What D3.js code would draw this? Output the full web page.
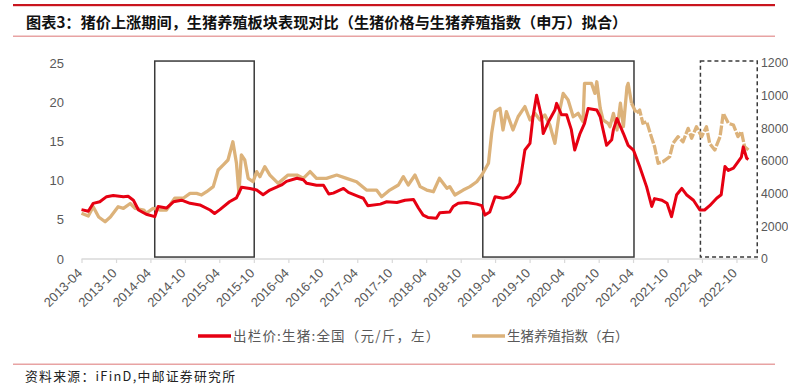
<!DOCTYPE html>
<html><head><meta charset="utf-8">
<script src="https://cdn.jsdelivr.net/npm/d3@7/dist/d3.min.js"></script>
<style>
html,body{margin:0;padding:0;background:#fff;overflow:hidden;}
svg{display:block;}
</style></head>
<body>
<svg id="c" width="788" height="384"></svg>
<script>
const titleText = "图表3：猪价上涨期间，生猪养殖板块表现对比（生猪价格与生猪养殖指数（申万）拟合）";
const sourceText = "资料来源：iFinD,中邮证券研究所";
const seriesNames = ["出栏价:生猪:全国（元/斤，左）", "生猪养殖指数（右）"];
const xTickLabels = ["2013-04","2013-10","2014-04","2014-10","2015-04","2015-10","2016-04","2016-10","2017-04","2017-10","2018-04","2018-10","2019-04","2019-10","2020-04","2020-10","2021-04","2021-10","2022-04","2022-10"];
const leftTicks = [0,5,10,15,20,25];
const rightTicks = [0,2000,4000,6000,8000,10000,12000];

const priceDates = ["2013-04-01","2013-05-07","2013-06-02","2013-07-07","2013-08-12","2013-09-16","2013-11-09","2013-12-04","2014-01-01","2014-01-28","2014-03-10","2014-04-24","2014-05-12","2014-06-25","2014-08-01","2014-09-13","2014-10-28","2014-12-19","2015-02-11","2015-03-07","2015-04-04","2015-05-25","2015-07-01","2015-07-28","2015-09-10","2015-10-16","2015-11-19","2015-12-25","2016-02-25","2016-03-22","2016-05-16","2016-06-19","2016-07-07","2016-08-28","2016-10-04","2016-11-01","2016-11-25","2017-01-18","2017-02-13","2017-04-06","2017-05-03","2017-05-27","2017-08-01","2017-09-04","2017-10-28","2017-12-10","2018-01-24","2018-02-19","2018-03-16","2018-04-10","2018-05-25","2018-06-12","2018-08-04","2018-08-22","2018-09-18","2018-11-01","2018-12-25","2019-01-21","2019-02-06","2019-03-04","2019-04-01","2019-05-13","2019-06-18","2019-07-15","2019-08-10","2019-09-06","2019-10-03","2019-10-19","2019-11-07","2019-12-03","2019-12-12","2020-01-09","2020-02-12","2020-02-21","2020-03-18","2020-04-14","2020-05-09","2020-05-27","2020-06-24","2020-07-18","2020-08-06","2020-09-21","2020-10-09","2020-10-24","2020-11-12","2020-12-09","2020-12-18","2021-01-06","2021-01-24","2021-02-09","2021-03-06","2021-04-03","2021-05-06","2021-06-12","2021-07-09","2021-07-24","2021-09-01","2021-09-28","2021-10-22","2021-11-18","2021-12-15","2022-01-09","2022-02-15","2022-03-21","2022-04-15","2022-05-12","2022-06-18","2022-07-12","2022-08-01","2022-08-19","2022-09-15","2022-10-09","2022-10-27","2022-11-06","2022-11-24","2022-12-03"];
const priceValues = [6.3,6.1,7.1,7.3,7.95,8.1,7.95,8.0,7.5,6.25,5.7,5.4,6.7,6.5,7.3,7.5,7.1,6.9,6.25,5.8,6.3,7.3,7.8,9.15,9.0,8.8,8.2,8.8,9.45,9.9,10.3,10.1,9.65,9.4,9.4,8.3,8.4,9.0,8.5,8.0,7.75,6.8,7.0,7.3,7.2,7.5,7.6,6.5,5.6,5.3,5.2,5.9,6.0,6.7,7.1,7.2,7.0,6.8,5.6,6.0,7.95,7.75,7.95,8.6,9.65,13.9,14.75,18.15,20.9,18.15,16.0,17.5,19.0,19.85,18.4,18.4,16.5,13.9,16.0,17.3,19.2,19.0,18.15,16.5,14.5,15.2,16.5,17.9,16.9,16.0,14.5,13.9,11.8,9.2,6.7,7.7,7.5,7.1,5.4,8.2,9.0,8.2,7.5,6.25,6.25,6.8,7.75,8.2,11.8,11.3,11.6,12.4,13.0,14.3,12.85,12.7];

const indexDates = ["2013-04-01","2013-05-07","2013-06-02","2013-07-01","2013-08-04","2013-09-01","2013-10-12","2013-11-09","2013-12-15","2014-01-10","2014-02-25","2014-03-10","2014-04-15","2014-05-20","2014-06-25","2014-08-08","2014-09-22","2014-10-28","2014-12-02","2014-12-28","2015-01-24","2015-02-28","2015-03-26","2015-04-21","2015-05-17","2015-06-12","2015-07-01","2015-07-14","2015-07-27","2015-08-14","2015-09-01","2015-09-27","2015-10-16","2015-11-02","2015-11-28","2015-12-25","2016-02-07","2016-03-30","2016-05-16","2016-06-19","2016-07-25","2016-08-28","2016-10-20","2016-12-13","2017-02-03","2017-03-28","2017-05-20","2017-07-12","2017-08-08","2017-09-20","2017-11-05","2017-12-01","2017-12-27","2018-02-01","2018-02-28","2018-04-04","2018-05-09","2018-06-10","2018-07-20","2018-08-04","2018-08-31","2018-10-14","2018-11-19","2018-12-25","2019-01-21","2019-02-25","2019-03-14","2019-04-01","2019-04-27","2019-05-13","2019-05-31","2019-07-05","2019-08-01","2019-09-06","2019-10-03","2019-10-29","2019-11-25","2019-12-21","2020-01-16","2020-02-12","2020-03-09","2020-03-27","2020-04-22","2020-05-19","2020-06-14","2020-07-10","2020-07-18","2020-08-24","2020-09-11","2020-09-21","2020-10-09","2020-10-24","2020-11-20","2020-11-30","2020-12-18","2021-01-06","2021-01-24","2021-02-09","2021-02-28","2021-03-06","2021-03-24","2021-04-19","2021-05-06","2021-05-23","2021-06-12","2021-07-01","2021-07-24","2021-08-12","2021-09-07","2021-10-12","2021-10-30","2021-11-25","2021-12-22","2022-01-18","2022-02-05","2022-03-03","2022-03-30","2022-04-25","2022-05-12","2022-06-08","2022-07-06","2022-07-23","2022-08-19","2022-09-15","2022-10-09","2022-10-27","2022-11-13","2022-12-03"];
const indexValues = [2800,2630,3200,2570,2280,2570,3200,3100,3400,3100,3000,2800,3100,3000,3000,3720,3720,4020,4020,3920,4120,4430,5450,5750,6060,7180,5860,4020,6370,6060,4940,4730,5350,5040,5650,5140,4630,5140,5140,4940,5350,4940,4940,5140,4940,4730,4220,4220,3810,4220,4530,5040,4530,5140,4430,4220,4120,4940,4330,4430,3920,4220,4430,4730,5140,5860,7700,9020,9230,7900,9020,7900,8710,9330,8510,8920,8510,8820,8200,7080,9120,10140,9740,8710,8920,8410,10750,10750,10140,10850,9230,8510,8310,8100,8920,7900,9540,8100,10550,10750,9540,8920,9120,8310,8410,7700,6880,5860,5960,6260,7080,7490,7180,8000,7390,8100,7490,8100,7080,6670,7490,8920,8310,8200,7490,7800,6880,6670];

// highlighted periods
const boxStarts = ["2014-04-24","2019-01-26","2022-03-24"];
const boxEnds = ["2015-10-03","2021-04-06","2023-01-19"];
const boxDashed = [false,false,true];
const indexDashFrom = "2021-04-15";

const parse = d3.timeParse("%Y-%m-%d");
const parseM = d3.timeParse("%Y-%m");
const svg = d3.select("#c");
const W = 788, H = 384;
const RED = "#e60012", TAN = "#dcb27a", GRAY = "#595959";

// header
svg.append("rect").attr("x",13).attr("y",4).attr("width",W-26).attr("height",2.2).attr("fill","#c9151e");
svg.append("text").attr("x",26).attr("y",27.5).attr("font-family","'Noto Sans CJK SC'").attr("font-weight","bold")
  .attr("font-size",15.2).attr("fill","#111").text(titleText);
svg.append("rect").attr("x",13).attr("y",35.5).attr("width",W-26).attr("height",1.5).attr("fill","#e8a3a3");

const x = d3.scaleTime().domain([parse("2013-04-01"), parse("2023-01-23")]).range([81.5, 758]);
const yL = d3.scaleLinear().domain([0,25]).range([259,63]);
const yR = d3.scaleLinear().domain([0,12000]).range([259,63]);

// x axis
const xAxis = d3.axisBottom(x).tickValues(xTickLabels.map(parseM)).tickFormat(d3.timeFormat("%Y-%m")).tickSize(4).tickSizeOuter(0);
const gx = svg.append("g").attr("transform","translate(0,259)").call(xAxis);
gx.select(".domain").attr("stroke","#d9d9d9").attr("stroke-width",1.3).attr("d", `M${x.range()[0]},0H${x.range()[1]}`);
gx.selectAll(".tick line").attr("stroke","#d9d9d9").attr("stroke-width",1.2);
gx.selectAll(".tick text").attr("font-family","'Liberation Sans', Arial").attr("font-size",13).attr("fill",GRAY)
  .attr("text-anchor","end").attr("dy",0).attr("y",0)
  .attr("transform","translate(1,15) rotate(-45)");

// left axis
const gl = svg.append("g").attr("transform","translate(64,0)")
  .call(d3.axisLeft(yL).tickValues(leftTicks).tickSize(0).tickPadding(0));
gl.select(".domain").remove();
gl.selectAll("text").attr("font-family","'Liberation Sans', Arial").attr("font-size",13).attr("fill",GRAY);

// right axis (labels run past the right edge, as in the original)
const gr = svg.append("g").attr("transform","translate(760,0)")
  .call(d3.axisRight(yR).tickValues(rightTicks).tickFormat(d3.format("d")).tickSize(0).tickPadding(1));
gr.select(".domain").remove();
gr.selectAll("text").attr("font-family","'Liberation Sans', Arial").attr("font-size",12.3).attr("fill",GRAY);

// boxes
boxStarts.forEach((s,i)=>{
  const x0 = x(parse(s)), x1 = x(parse(boxEnds[i]));
  svg.append("rect").attr("x",x0).attr("y",yL(25.25)).attr("width",x1-x0).attr("height",yL(0.25)-yL(25.25))
    .attr("fill","none").attr("stroke","#3a3a3a").attr("stroke-width",1.5)
    .attr("stroke-dasharray", boxDashed[i] ? "4,3" : null);
});

// series
const idx = indexDates.map((d,i)=>({d:parse(d), v:indexValues[i]}));
const cut = parse(indexDashFrom);
const lineR = d3.line().x(p=>x(p.d)).y(p=>yR(p.v));
svg.append("path").datum(idx.filter(p=>p.d<=cut)).attr("d",lineR).attr("fill","none").attr("stroke",TAN)
  .attr("stroke-width",3.3).attr("stroke-linejoin","round");
svg.append("path").datum(idx.filter((p,i)=>p.d>=cut || (idx[i+1] && idx[i+1].d>cut))).attr("d",lineR).attr("fill","none").attr("stroke",TAN)
  .attr("stroke-width",3.3).attr("stroke-linejoin","round").attr("stroke-dasharray","10,1.6");

const pr = priceDates.map((d,i)=>({d:parse(d), v:priceValues[i]}));
svg.append("path").datum(pr).attr("d", d3.line().x(p=>x(p.d)).y(p=>yL(p.v)))
  .attr("fill","none").attr("stroke",RED).attr("stroke-width",3).attr("stroke-linejoin","round");

// legend
const lg = svg.append("g").attr("font-family","'Noto Sans CJK SC'").attr("font-size",13.5).attr("fill",GRAY);
const legX = [198, 472];
const legCol = [RED, TAN];
const legSpacing = [1.2, 0];
seriesNames.forEach((n,i)=>{
  lg.append("line").attr("x1",legX[i]).attr("x2",legX[i]+33).attr("y1",336).attr("y2",336)
    .attr("stroke",legCol[i]).attr("stroke-width",3.5);
  lg.append("text").attr("x",legX[i]+35).attr("y",341).attr("fill",GRAY).attr("letter-spacing",legSpacing[i]).text(n);
});

// footer
svg.append("rect").attr("x",13).attr("y",363.5).attr("width",W-26).attr("height",1.5).attr("fill","#e8a3a3");
svg.append("text").attr("x",25).attr("y",380.5).attr("font-family","'Noto Sans CJK SC'").attr("font-size",12.8)
  .attr("letter-spacing",1.3).attr("fill","#222").text(sourceText);
</script>
</body></html>
